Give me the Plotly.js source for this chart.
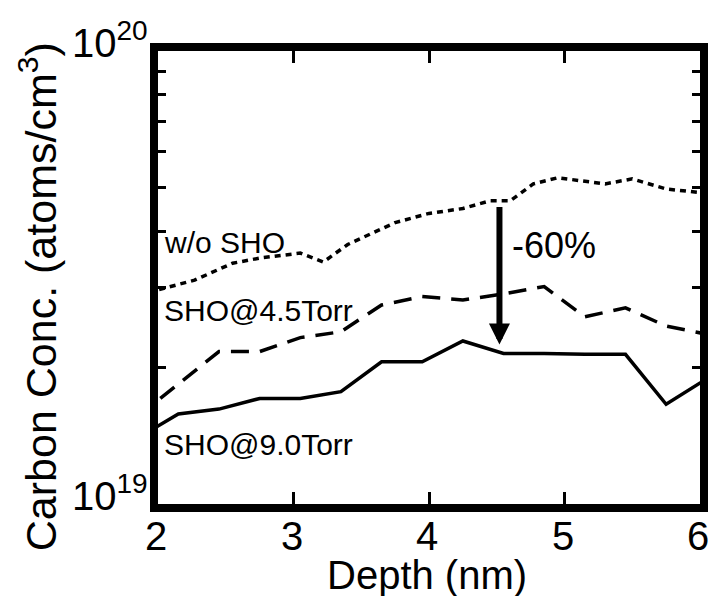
<!DOCTYPE html>
<html>
<head>
<meta charset="utf-8">
<script src="https://cdn.plot.ly/plotly-3.0.1.min.js"></script>
<style>
  html, body { margin: 0; padding: 0; background: #fff; }
  #chart { width: 713px; height: 596px; }
</style>
</head>
<body>
<div id="chart"></div>
<script>
// ---- data ----
var depthTorr = [1.85, 2.15, 2.45, 2.75, 3.05, 3.35, 3.65, 3.95, 4.25, 4.55, 4.85, 5.15, 5.45, 5.75, 6.05];
var conc90Torr = [1.40e19, 1.58e19, 1.62e19, 1.71e19, 1.71e19, 1.77e19, 2.06e19, 2.06e19, 2.29e19, 2.15e19, 2.15e19, 2.14e19, 2.14e19, 1.66e19, 1.89e19];
var conc45Torr = [1.56e19, 1.84e19, 2.17e19, 2.17e19, 2.33e19, 2.40e19, 2.75e19, 2.87e19, 2.82e19, 2.91e19, 3.02e19, 2.59e19, 2.71e19, 2.47e19, 2.37e19];
var depthNoSHO = [1.85, 2.0, 2.27, 2.55, 2.75, 3.05, 3.22, 3.4, 3.75, 4.0, 4.25, 4.45, 4.6, 4.77, 4.95, 5.3, 5.5, 5.75, 6.0];
var concNoSHO = [2.90e19, 2.97e19, 3.12e19, 3.40e19, 3.49e19, 3.58e19, 3.42e19, 3.74e19, 4.18e19, 4.38e19, 4.49e19, 4.67e19, 4.67e19, 5.09e19, 5.25e19, 5.09e19, 5.22e19, 4.96e19, 4.87e19];

var xTickVals = [2, 3, 4, 5, 6];
var xTickText = ['2', '3', '4', '5', '6'];
var yTickVals = [1e19, 1e20];
var yTickText = ['10<sup>19</sup>', '10<sup>20</sup>'];
var yMinorVals = [2e19, 3e19, 4e19, 5e19, 6e19, 7e19, 8e19, 9e19];

var xTitle = 'Depth (nm)';
var yTitle = 'Carbon Conc. (atoms/cm<sup>3</sup>)';
var seriesLabels = ['w/o SHO', 'SHO@4.5Torr', 'SHO@9.0Torr'];
var labelDepth = 2.03;
var labelConc = [3.78e19, 2.67e19, 1.35e19];
var reductionText = '-60%';
var arrowDepth = 4.52;
var arrowFrom = 4.56e19;
var arrowTo = 2.25e19;

var FONT = 'Liberation Sans, Arial, Helvetica, sans-serif';

var traces = [
  { x: depthNoSHO, y: concNoSHO, mode: 'lines', name: seriesLabels[0],
    line: { color: '#000', width: 3.5, dash: '6px,5px' } },
  { x: depthTorr, y: conc45Torr, mode: 'lines', name: seriesLabels[1],
    line: { color: '#000', width: 3.5, dash: '18px,11px' } },
  { x: depthTorr, y: conc90Torr, mode: 'lines', name: seriesLabels[2],
    line: { color: '#000', width: 3.5 } }
];

var annotations = [];
// x tick labels, placed at the x axis values
for (var k = 0; k < xTickVals.length; k++) {
  annotations.push({
    x: xTickVals[k], xref: 'x', y: 0, yref: 'paper', yanchor: 'middle', yshift: -32, xshift: -2,
    text: xTickText[k], showarrow: false,
    font: { family: FONT, size: 40, color: '#000' }
  });
}
// y tick labels, placed at the y axis values
for (var m = 0; m < yTickVals.length; m++) {
  annotations.push({
    x: 0, xref: 'paper', xanchor: 'right', xshift: -8,
    y: Math.log10(yTickVals[m]), yref: 'y', yanchor: 'middle', yshift: 11,
    text: yTickText[m], showarrow: false,
    font: { family: FONT, size: 40, color: '#000' }
  });
}
for (var i = 0; i < seriesLabels.length; i++) {
  annotations.push({
    x: labelDepth, y: Math.log10(labelConc[i]), xref: 'x', yref: 'y',
    text: seriesLabels[i], showarrow: false, xanchor: 'left', yanchor: 'middle',
    font: { family: FONT, size: 30, color: '#000' }
  });
}
annotations.push({
  x: 4.60, y: Math.log10(3.72e19), xref: 'x', yref: 'y',
  text: reductionText, showarrow: false, xanchor: 'left', yanchor: 'middle',
  font: { family: FONT, size: 36, color: '#000' }
});
annotations.push({
  x: arrowDepth, y: Math.log10(arrowTo), xref: 'x', yref: 'y',
  ax: arrowDepth, ay: Math.log10(arrowFrom), axref: 'x', ayref: 'y',
  text: '', showarrow: true, arrowhead: 2, arrowsize: 0.7, arrowwidth: 6, arrowcolor: '#000'
});
annotations.push({
  x: 0.4954, y: -0.157, xref: 'paper', yref: 'paper',
  text: xTitle, showarrow: false, xanchor: 'center', yanchor: 'middle',
  font: { family: FONT, size: 40, color: '#000' }
});
annotations.push({
  x: -0.222, y: 0.458, xref: 'paper', yref: 'paper',
  text: yTitle, textangle: -90, showarrow: false,
  xanchor: 'center', yanchor: 'middle',
  font: { family: FONT, size: 43, color: '#000' }
});

var layout = {
  width: 713, height: 596,
  margin: { l: 158, r: 13, t: 51, b: 92, pad: 0 },
  paper_bgcolor: '#fff', plot_bgcolor: '#fff',
  showlegend: false,
  font: { family: FONT, color: '#000' },
  xaxis: {
    range: [2, 6], tickmode: 'array', tickvals: xTickVals, showticklabels: false,
    ticks: 'inside', ticklen: 12, tickwidth: 3, tickcolor: '#000',
    showline: true, linewidth: 8, linecolor: '#000', mirror: 'ticks',
    showgrid: false, zeroline: false
  },
  yaxis: {
    type: 'log', range: [19, 20], tickmode: 'array', tickvals: yTickVals, showticklabels: false,
    ticks: 'inside', ticklen: 8, tickwidth: 3, tickcolor: '#000',
    minor: { tickmode: 'array', tickvals: yMinorVals, ticks: 'inside', ticklen: 8, tickwidth: 3, tickcolor: '#000' },
    showline: true, linewidth: 8, linecolor: '#000', mirror: 'ticks',
    showgrid: false, zeroline: false
  },
  annotations: annotations
};

Plotly.newPlot('chart', traces, layout, { displayModeBar: false, staticPlot: true });
</script>
</body>
</html>
